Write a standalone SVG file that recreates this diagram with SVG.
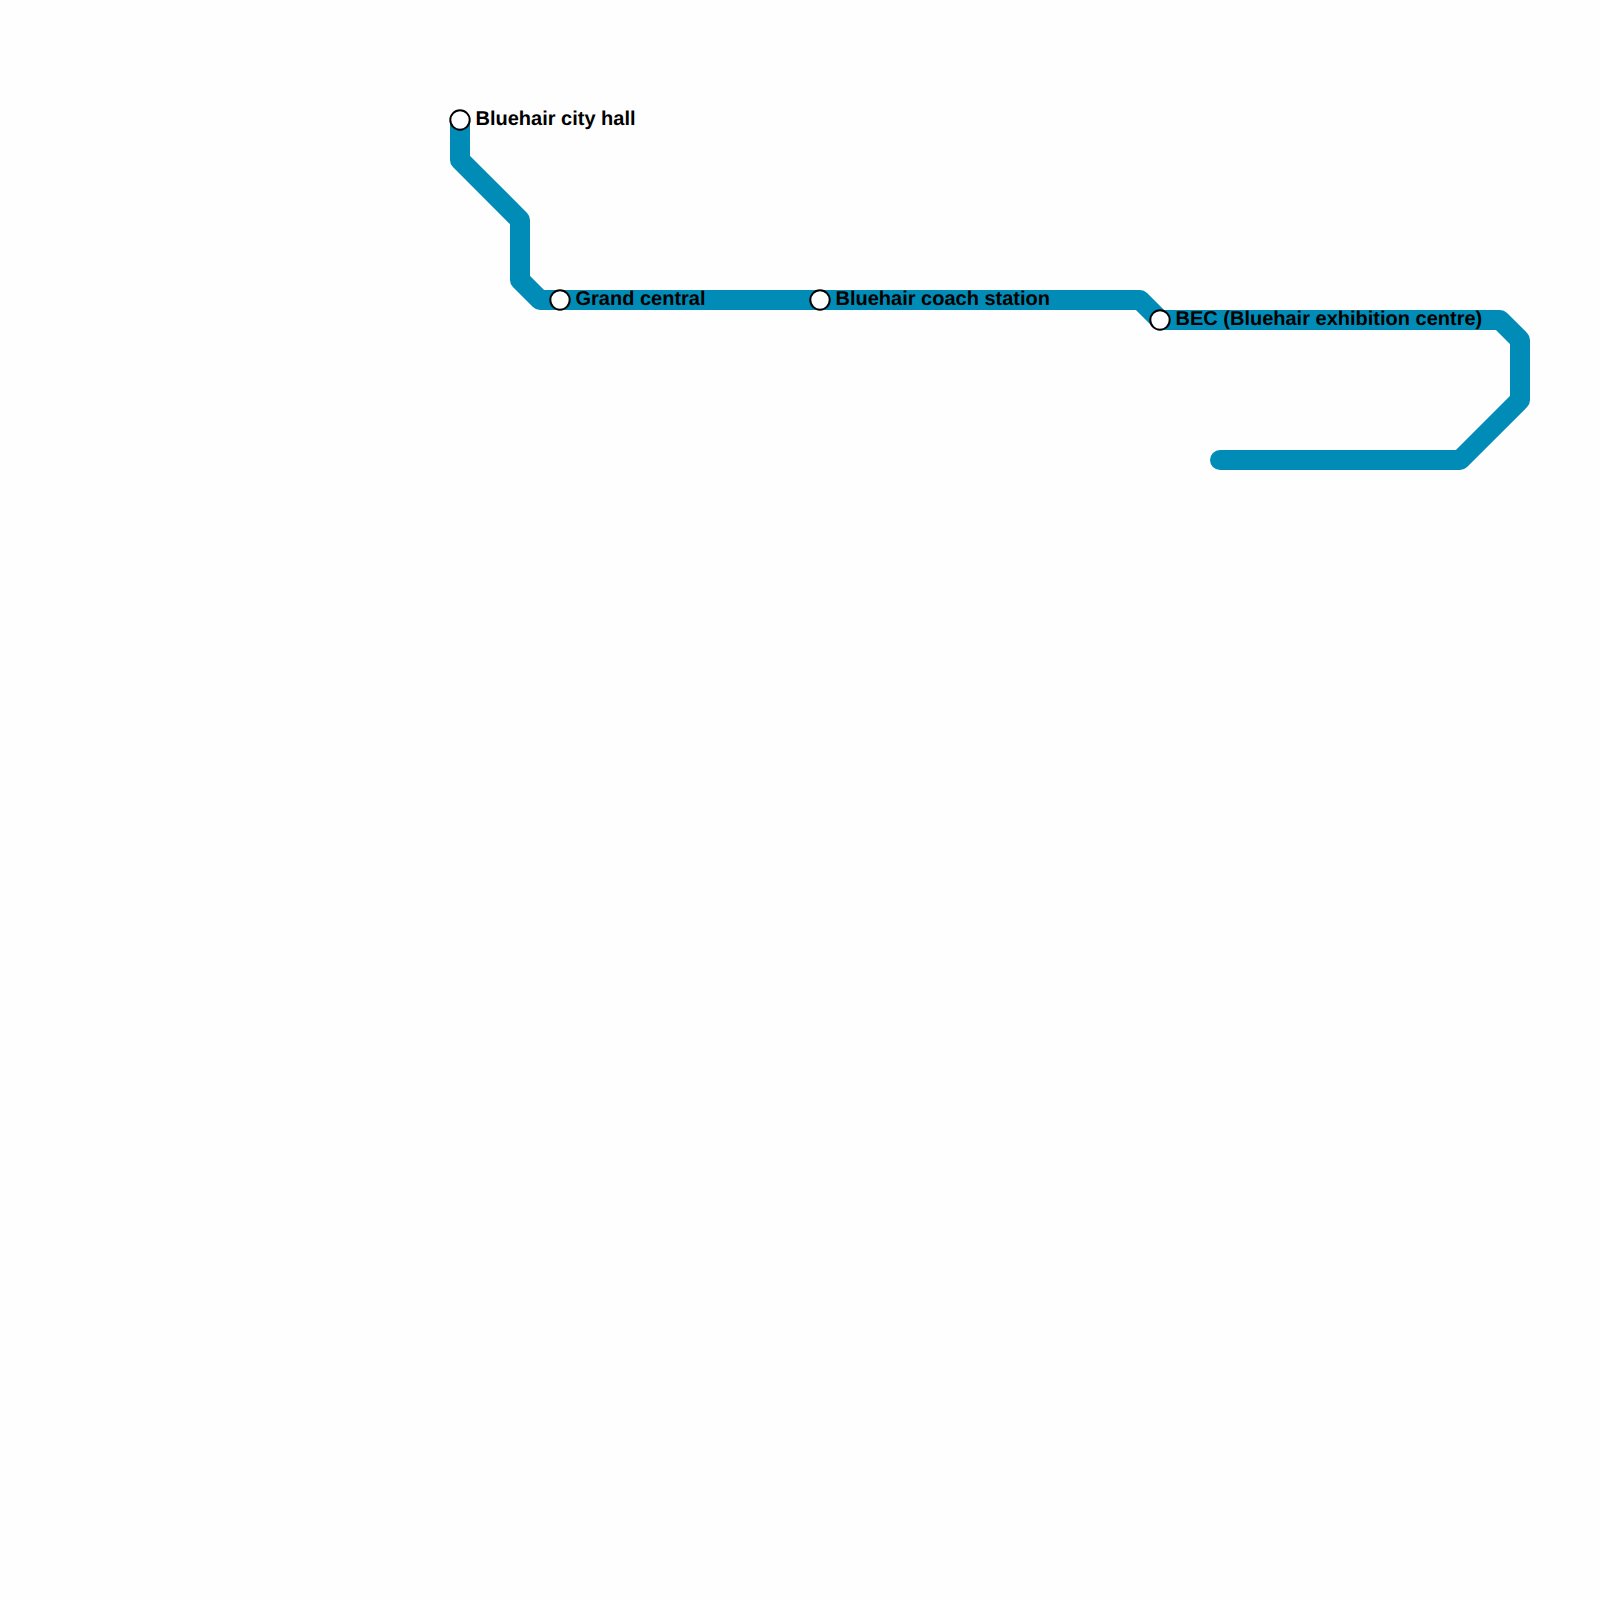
<svg xmlns="http://www.w3.org/2000/svg" width="1600" height="1600" viewBox="0 0 1600 1600">
<style>
.line{fill:none;stroke:#008cb6;stroke-width:20;stroke-linecap:round;stroke-linejoin:round}
.st{fill:#fff;stroke:#000;stroke-width:2}
.lb{font-family:"Liberation Sans",Arial,sans-serif;font-weight:bold;font-size:20px;fill:#000;text-rendering:geometricPrecision}
</style>
<rect width="1600" height="1600" fill="#fefefe"/>
<g id="connectors">
<path class="line" d="M460 120V160L520 220V280L540 300H1140L1160 320H1500L1520 340V400L1460 460H1220"/>
</g>
<g id="station-city-hall"><circle class="st" cx="460" cy="120" r="9.7"/><text class="lb" x="475.5" y="125">Bluehair city hall</text></g>
<g id="station-grand-central"><circle class="st" cx="560" cy="300" r="9.7"/><text class="lb" x="575.5" y="305">Grand central</text></g>
<g id="station-coach"><circle class="st" cx="820" cy="300" r="9.7"/><text class="lb" x="835.5" y="305">Bluehair coach station</text></g>
<g id="station-bec"><circle class="st" cx="1160" cy="320" r="9.7"/><text class="lb" x="1175.5" y="325">BEC (Bluehair exhibition centre)</text></g>
</svg>
